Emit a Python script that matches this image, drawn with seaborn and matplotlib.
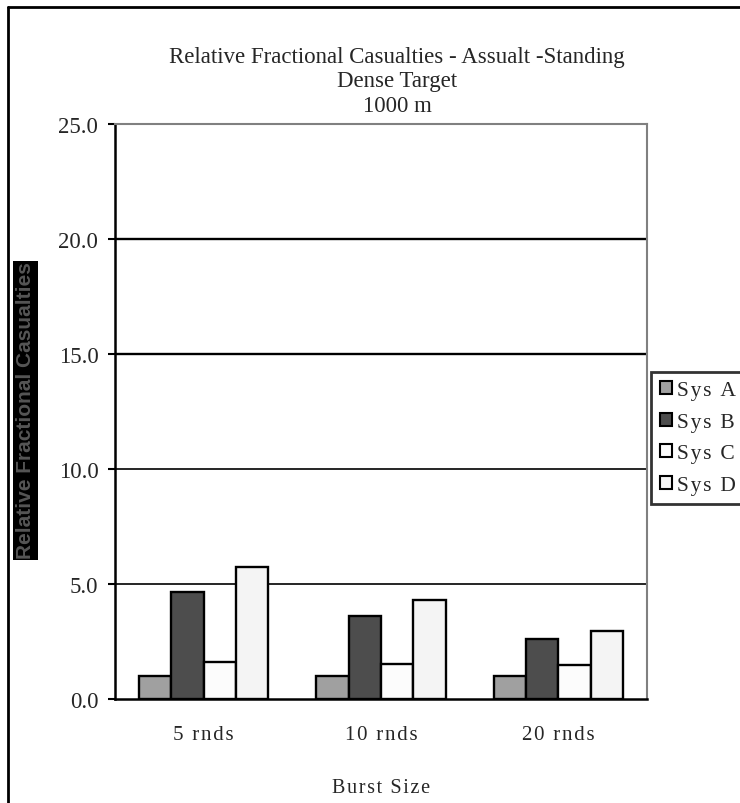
import matplotlib
matplotlib.use("Agg")
import matplotlib.pyplot as plt
import seaborn as sns
import pandas as pd
import numpy as np
from matplotlib.lines import Line2D
from matplotlib.patches import Rectangle

categories = ["5 rnds", "10 rnds", "20 rnds"]
systems = ["Sys A", "Sys B", "Sys C", "Sys D"]
sys_a = [1.0, 1.0, 1.0]
sys_b = [4.64, 3.63, 2.59]
sys_c = [1.63, 1.54, 1.47]
sys_d = [5.76, 4.29, 2.94]
y_ticks = [0.0, 5.0, 10.0, 15.0, 20.0, 25.0]
colors = ["#a0a0a0", "#4d4d4d", "#fcfcfc", "#f4f4f4"]


def spaced(s):
    return "\u200a".join(s)


rows = []
for s, vals in zip(systems, [sys_a, sys_b, sys_c, sys_d]):
    for c, v in zip(categories, vals):
        rows.append({"Burst": c, "System": s, "Value": v})
df = pd.DataFrame(rows)

sns.set_style("white")
plt.rcParams["font.family"] = ["Liberation Serif", "DejaVu Serif"]

W, H = 740, 804
fig = plt.figure(figsize=(W / 100, H / 100), dpi=100)
ax = fig.add_axes([115 / W, 1 - 700 / H, (647 - 115) / W, (700 - 125) / H])

sns.barplot(data=df, x="Burst", y="Value", hue="System", order=categories,
            hue_order=systems, palette=colors, width=0.73, edgecolor="black",
            linewidth=1.7, ax=ax, legend=True, saturation=1)

ax.set_ylim(0, 25)
ax.set_xlim(-0.5, 2.5)
ax.set_yticks(y_ticks)
ax.set_yticklabels([f"{t:.1f}" for t in y_ticks], fontsize=16.5)
for t in y_ticks[1:-1]:
    ax.axhline(t, color="black", lw=1.2 if t < 15 else 1.7, zorder=0)

ax.set_xticks(range(len(categories)))
ax.set_xticklabels([spaced(c) for c in categories], fontsize=15)
ax.set_xticks([-0.5, 0.5, 1.5, 2.5], minor=True)
ax.tick_params(axis="x", which="major", length=0, pad=19)
ax.tick_params(axis="x", which="minor", length=5, width=1.5, color="black", direction="out")
ax.tick_params(axis="y", which="major", length=5, width=1.5, color="black", direction="out", pad=7, left=True)
ax.set_xlabel("")
ax.set_ylabel("")

for side in ["left", "bottom"]:
    ax.spines[side].set_color("black")
    ax.spines[side].set_linewidth(1.8)
for side in ["top", "right"]:
    ax.spines[side].set_color("#808080")
    ax.spines[side].set_linewidth(1.5)
    ax.spines[side].set_visible(True)

handles, labels = ax.get_legend_handles_labels()
leg = ax.legend(handles, [spaced(l) for l in labels], loc="upper left",
                bbox_to_anchor=(651 / W, 1 - 373 / H),
                bbox_transform=fig.transFigure, borderaxespad=0, frameon=True,
                fancybox=False, fontsize=15.5, handlelength=0.55, handleheight=0.55,
                handletextpad=0.22, labelspacing=0.58, borderpad=0.42)
leg.get_frame().set_edgecolor("black")
leg.get_frame().set_linewidth(2)
for h in leg.legend_handles:
    h.set_edgecolor("black")
    h.set_linewidth(1.5)

# Titles
fig.text(397 / W, 1 - 57 / H, "Relative Fractional Casualties - Assualt -Standing",
         ha="center", va="center", fontsize=16.5)
fig.text(397 / W, 1 - 82 / H, "Dense Target", ha="center", va="center", fontsize=16.5)
fig.text(397 / W, 1 - 106 / H, "1000 m", ha="center", va="center", fontsize=16.5)

fig.text(381 / W, 1 - 789 / H, spaced("Burst Size"), ha="center", va="center", fontsize=14.5)

# Y label: gray text on black box
fig.add_artist(Rectangle((13 / W, 1 - 561 / H), 25 / W, (561 - 262) / H,
                         transform=fig.transFigure, facecolor="black", edgecolor="none"))
fig.text(26 / W, 1 - 411 / H, "Relative Fractional Casualties", rotation=90,
         ha="center", va="center", fontsize=15, color="#555555", fontweight="bold",
         family=["Liberation Sans", "DejaVu Sans"])

# Figure frame (left and top edges visible)
fig.add_artist(Line2D([8 / W, 8 / W], [0, 1 - 8 / H], transform=fig.transFigure,
                      color="black", lw=2))
fig.add_artist(Line2D([8 / W, 1], [1 - 8 / H, 1 - 8 / H], transform=fig.transFigure,
                      color="black", lw=2))

fig.savefig("out.png", dpi=100)
